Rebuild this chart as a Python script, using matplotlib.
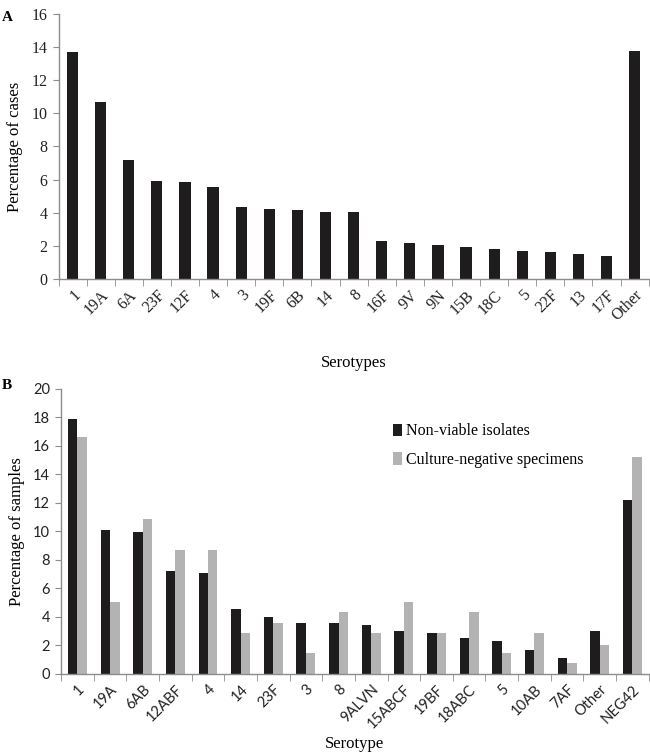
import numpy as np
import matplotlib
matplotlib.use("Agg")
import matplotlib.pyplot as plt

# panel A data
cats_a = ["1", "19A", "6A", "23F", "12F", "4", "3", "19F", "6B", "14", "8",
          "16F", "9V", "9N", "15B", "18C", "5", "22F", "13", "17F", "Other"]
pct_cases = [13.7, 10.7, 7.2, 5.9, 5.85, 5.55, 4.35, 4.2, 4.15, 4.05, 4.05,
             2.3, 2.2, 2.05, 1.95, 1.8, 1.7, 1.65, 1.5, 1.4, 13.75]

# panel B data
cats_b = ["1", "19A", "6AB", "12ABF", "4", "14", "23F", "3", "8", "9ALVN",
          "15ABCF", "19BF", "18ABC", "5", "10AB", "7AF", "Other", "NEG42"]
nonviable = [17.9, 10.1, 9.95, 7.25, 7.1, 4.55, 4.0, 3.55, 3.55, 3.4,
             3.0, 2.85, 2.55, 2.3, 1.7, 1.15, 3.0, 12.2]
culture_neg = [16.65, 5.05, 10.9, 8.7, 8.7, 2.9, 3.6, 1.45, 4.35, 2.9,
               5.05, 2.9, 4.35, 1.45, 2.9, 0.75, 2.0, 15.2]

BLACK = "#1e1c1d"
GREY = "#b3b3b3"
SPINE = "#8c8c8c"
SERIF = "Liberation Serif"
SANS = "Lato"


def style_axes(ax, n, ymax, ystep, tickfont):
    for s in ("top", "right"):
        ax.spines[s].set_visible(False)
    for s in ("left", "bottom"):
        ax.spines[s].set_color(SPINE)
        ax.spines[s].set_linewidth(1.0)
    ax.set_xlim(-0.5, n - 0.5)
    ax.set_ylim(0, ymax)
    ax.set_yticks(np.arange(0, ymax + 0.1, ystep))
    ax.set_xticks(np.arange(n))
    ax.set_xticks(np.arange(n + 1) - 0.5, minor=True)
    ax.tick_params(axis="x", which="major", length=0, pad=6)
    ax.tick_params(axis="x", which="minor", length=5, color=SPINE)
    ax.tick_params(axis="y", length=4, color=SPINE, pad=4)
    for lab in ax.get_yticklabels():
        lab.set_fontfamily(tickfont)
        lab.set_fontsize(11.5 if tickfont == SERIF else 10.5)
        lab.set_color("#222222")


fig = plt.figure(figsize=(6.5, 7.53), dpi=100)

# ---- panel A
ax1 = fig.add_axes([0.09, 0.6295, 0.908, 0.352])
x = np.arange(len(cats_a))
ax1.bar(x, pct_cases, width=0.4, color=BLACK)
style_axes(ax1, len(cats_a), 16, 2, SERIF)
ax1.set_xticklabels(cats_a, rotation=45, ha="right", rotation_mode="anchor",
                    fontfamily=SERIF, fontsize=11.5, color="#222222")
ax1.set_ylabel("Percentage of cases", fontfamily=SERIF, fontsize=12, labelpad=6)
ax1.set_xlabel("Serotypes", fontfamily=SERIF, fontsize=12, labelpad=22)
fig.text(0.003, 0.985, "A", fontfamily=SERIF, fontweight="bold", fontsize=11, va="top")

# ---- panel B
ax2 = fig.add_axes([0.094, 0.105, 0.904, 0.3784])
x = np.arange(len(cats_b))
w = 0.29
ax2.bar(x - w / 2, nonviable, width=w, color=BLACK, label="Non-viable isolates")
ax2.bar(x + w / 2, culture_neg, width=w, color=GREY, label="Culture-negative specimens")
style_axes(ax2, len(cats_b), 20, 2, SANS)
ax2.set_xticklabels(cats_b, rotation=45, ha="right", rotation_mode="anchor",
                    fontfamily=SANS, fontsize=10.5, color="#222222")
ax2.set_ylabel("Percentage of samples", fontfamily=SERIF, fontsize=12, labelpad=6)
ax2.set_xlabel("Serotype", fontfamily=SERIF, fontsize=12, labelpad=4)
ax2.legend(loc="upper left", bbox_to_anchor=(0.54, 0.93), frameon=False,
           prop={"family": SERIF, "size": 11.5}, handlelength=0.6,
           handleheight=0.8, handletextpad=0.2, labelspacing=0.8)
fig.text(0.003, 0.497, "B", fontfamily=SERIF, fontweight="bold", fontsize=11, va="top")

fig.savefig("out.png", dpi=100)
